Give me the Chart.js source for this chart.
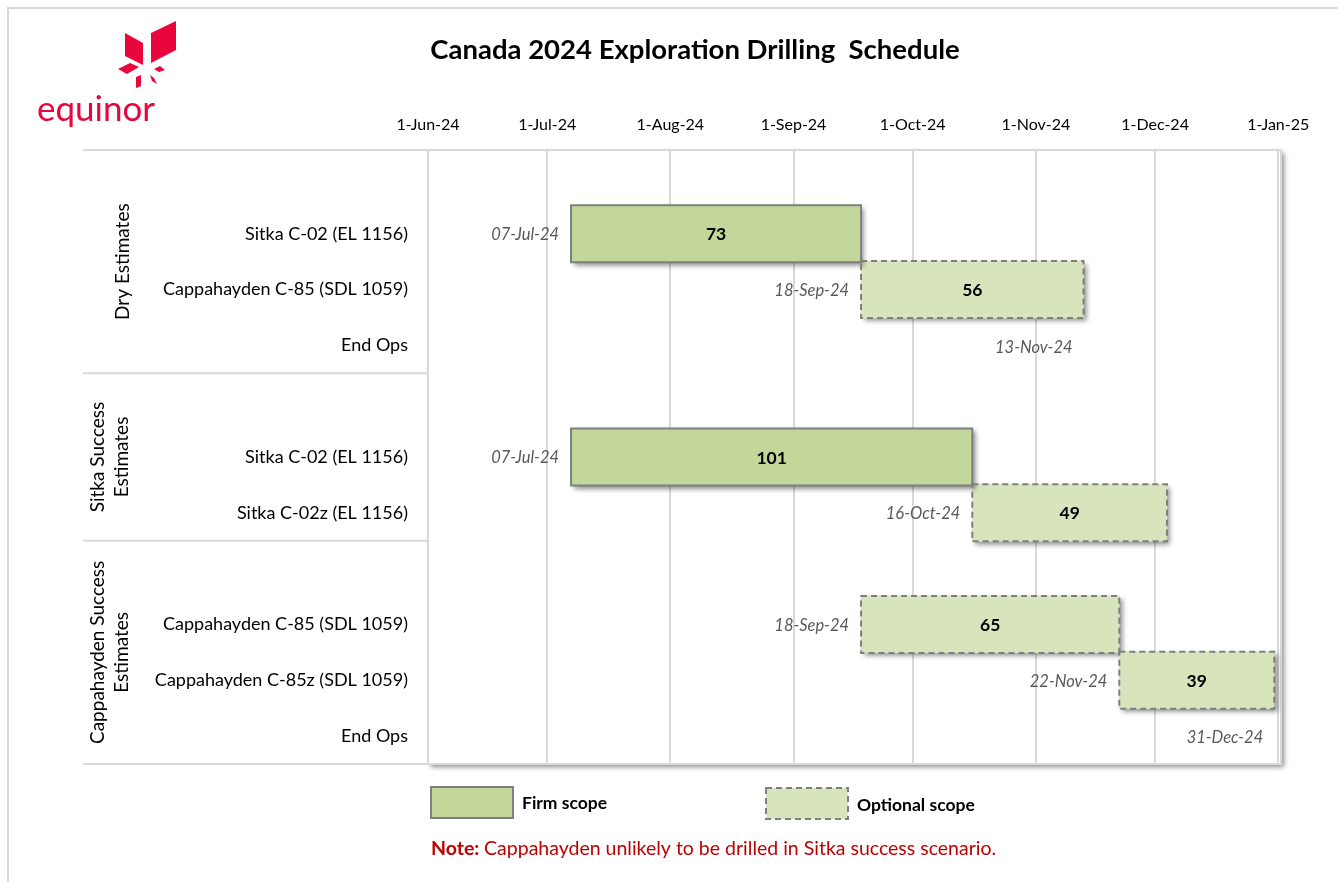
<!DOCTYPE html>
<html>
<head>
<meta charset="utf-8">
<script src="https://cdn.jsdelivr.net/npm/chart.js@4"></script>
<style>
  body { margin: 0; background: #fff; }
  canvas { display: block; }
</style>
</head>
<body>
<canvas id="chart" width="1338" height="882"></canvas>
<script>
'use strict';

// rows of the schedule, top to bottom
const rowLabels = ['', 'Sitka C-02 (EL 1156)', 'Cappahayden C-85 (SDL 1059)', 'End Ops',
  '', 'Sitka C-02 (EL 1156)', 'Sitka C-02z (EL 1156)',
  '', 'Cappahayden C-85 (SDL 1059)', 'Cappahayden C-85z (SDL 1059)', 'End Ops'];
const groupNames = [['Dry Estimates'], ['Sitka Success', 'Estimates'], ['Cappahayden Success', 'Estimates']];
const groupRows = [4, 3, 4];

// firm scope bars (start date + duration in days)
const firmStart = [null, '2024-07-07', null, null, null, '2024-07-07', null, null, null, null, null];
const firmDays = [null, 73, null, null, null, 101, null, null, null, null, null];
// optional scope bars
const optStart = [null, null, '2024-09-18', null, null, null, '2024-10-16', null, '2024-09-18', '2024-11-22', null];
const optDays = [null, null, 56, null, null, null, 49, null, 65, 39, null];
// end of operations milestones
const endOps = [null, null, null, '2024-11-13', null, null, null, null, null, null, '2024-12-31'];

const axisStart = '2024-06-01';
const tickDates = ['2024-06-01', '2024-07-01', '2024-08-01', '2024-09-01', '2024-10-01', '2024-11-01', '2024-12-01', '2025-01-01'];
const tickLabels = ['1-Jun-24', '1-Jul-24', '1-Aug-24', '1-Sep-24', '1-Oct-24', '1-Nov-24', '1-Dec-24', '1-Jan-25'];

const MON = ['Jan', 'Feb', 'Mar', 'Apr', 'May', 'Jun', 'Jul', 'Aug', 'Sep', 'Oct', 'Nov', 'Dec'];
const FONT = 'Lato, "Noto Sans", sans-serif';
const RED = '#e8063c';

function dayOf(iso) {
  return (Date.parse(iso + 'T00:00:00Z') - Date.parse(axisStart + 'T00:00:00Z')) / 86400000;
}
function fmt(iso) {
  let d = new Date(iso + 'T00:00:00Z');
  return String(d.getUTCDate()).padStart(2, '0') + '-' + MON[d.getUTCMonth()] + '-' + String(d.getUTCFullYear()).slice(2);
}

const tickDays = tickDates.map(dayOf);
const firmBars = firmStart.map((s, i) => s ? [dayOf(s), dayOf(s) + firmDays[i]] : null);
const optBars = optStart.map((s, i) => s ? [dayOf(s), dayOf(s) + optDays[i]] : null);

function drawLogo(ctx) {
  ctx.save();
  ctx.fillStyle = RED;
  const shapes = [
    [[125, 33], [143, 43], [143, 65], [125, 56]],
    [[151, 33], [176, 21], [176, 50], [151, 63]],
    [[118, 69], [130, 63], [139, 67], [127, 74]],
    [[154, 69], [160, 66], [165, 70], [159, 72]],
    [[136, 77], [141, 75], [141, 86], [136, 88]],
    [[150, 75], [154, 78], [157, 84], [152, 81]]
  ];
  shapes.forEach(p => {
    ctx.beginPath();
    ctx.moveTo(p[0][0], p[0][1]);
    for (let i = 1; i < p.length; i++) ctx.lineTo(p[i][0], p[i][1]);
    ctx.closePath();
    ctx.fill();
  });
  ctx.font = '35px ' + FONT;
  ctx.textBaseline = 'alphabetic';
  ctx.fillText('equinor', 37, 121);
  ctx.restore();
}

const frame = {
  id: 'frame',
  beforeDraw(chart) {
    const ctx = chart.ctx;
    const a = chart.chartArea;
    const y = chart.scales.y;
    ctx.save();
    ctx.fillStyle = '#fff';
    ctx.fillRect(0, 0, chart.width, chart.height);
    // outer frame
    ctx.strokeStyle = '#d9d9d9';
    ctx.lineWidth = 2;
    ctx.beginPath();
    ctx.moveTo(8, chart.height);
    ctx.lineTo(8, 8);
    ctx.lineTo(chart.width, 8);
    ctx.stroke();

    drawLogo(ctx);

    ctx.fillStyle = '#000';
    ctx.font = 'bold 27.5px ' + FONT;
    ctx.textAlign = 'center';
    ctx.textBaseline = 'middle';
    ctx.fillText('Canada 2024 Exploration Drilling  Schedule', 695, 50);

    // plot area with shadow
    ctx.save();
    ctx.shadowColor = 'rgba(0,0,0,0.45)';
    ctx.shadowBlur = 5;
    ctx.shadowOffsetX = 3;
    ctx.shadowOffsetY = 3;
    ctx.fillStyle = '#fff';
    ctx.fillRect(a.left, a.top, a.right - a.left, a.bottom - a.top);
    ctx.restore();

    // group separators and group names
    const rowH = (a.bottom - a.top) / rowLabels.length;
    let idx = 0;
    ctx.strokeStyle = '#d9d9d9';
    ctx.lineWidth = 2;
    const lineY = [a.top];
    groupRows.forEach(n => { idx += n; lineY.push(y.getPixelForValue(idx - 1) + rowH / 2); });
    lineY.forEach(ly => {
      ctx.beginPath();
      ctx.moveTo(83, ly);
      ctx.lineTo(a.left, ly);
      ctx.stroke();
    });
    ctx.fillStyle = '#000';
    ctx.font = '19px ' + FONT;
    groupNames.forEach((lines, g) => {
      const cy = (lineY[g] + lineY[g + 1]) / 2;
      ctx.save();
      ctx.translate(lines.length === 1 ? 123 : 110, cy);
      ctx.rotate(-Math.PI / 2);
      ctx.textAlign = 'center';
      ctx.textBaseline = 'middle';
      lines.forEach((t, k) => ctx.fillText(t, 0, (k - (lines.length - 1) / 2) * 24));
      ctx.restore();
    });
    ctx.restore();
  },
  beforeDatasetsDraw(chart) {
    const ctx = chart.ctx;
    const a = chart.chartArea;
    ctx.save();
    ctx.strokeStyle = '#d9d9d9';
    ctx.lineWidth = 2;
    ctx.strokeRect(a.left, a.top, a.right - a.left, a.bottom - a.top);
    ctx.restore();
    ctx.save();
    ctx.shadowColor = 'rgba(0,0,0,0.45)';
    ctx.shadowBlur = 5;
    ctx.shadowOffsetX = 3;
    ctx.shadowOffsetY = 3;
  },
  afterDatasetsDraw(chart) {
    const ctx = chart.ctx;
    ctx.restore();
    ctx.save();
    ctx.strokeStyle = '#7f7f7f';
    ctx.lineWidth = 2;
    const days = [firmDays, optDays];
    const starts = [firmStart, optStart];
    chart.data.datasets.forEach((ds, di) => {
      chart.getDatasetMeta(di).data.forEach((el, i) => {
        if (!ds.data[i]) return;
        const p = el.getProps(['x', 'y', 'base', 'height'], true);
        const l = Math.min(p.x, p.base), r = Math.max(p.x, p.base);
        ctx.setLineDash(di === 0 ? [] : [6, 4]);
        ctx.strokeRect(l, p.y - p.height / 2, r - l, p.height);
        ctx.setLineDash([]);
        ctx.fillStyle = '#000';
        ctx.font = 'bold 17.5px ' + FONT;
        ctx.textAlign = 'center';
        ctx.textBaseline = 'middle';
        ctx.fillText(String(days[di][i]), (l + r) / 2, p.y + 1);
        ctx.fillStyle = '#595959';
        ctx.font = 'italic 16.5px ' + FONT;
        ctx.textAlign = 'right';
        ctx.fillText(fmt(starts[di][i]), l - 12, p.y + 1);
      });
    });
    const xs = chart.scales.x, ys = chart.scales.y;
    endOps.forEach((d, i) => {
      if (!d) return;
      ctx.fillStyle = '#595959';
      ctx.font = 'italic 16.5px ' + FONT;
      ctx.textAlign = 'right';
      ctx.textBaseline = 'middle';
      ctx.fillText(fmt(d), xs.getPixelForValue(dayOf(d)) - 11, ys.getPixelForValue(i) + 2);
    });
    ctx.restore();
  },
  afterDraw(chart) {
    const ctx = chart.ctx;
    ctx.save();
    ctx.lineWidth = 2;
    ctx.strokeStyle = '#7f7f7f';
    ctx.fillStyle = '#c4d79b';
    ctx.fillRect(431, 787, 82, 31);
    ctx.strokeRect(431, 787, 82, 31);
    ctx.fillStyle = '#d8e4bc';
    ctx.fillRect(766, 788, 82, 31);
    ctx.setLineDash([6, 4]);
    ctx.strokeRect(766, 788, 82, 31);
    ctx.setLineDash([]);
    ctx.fillStyle = '#000';
    ctx.font = 'bold 17.5px ' + FONT;
    ctx.textBaseline = 'middle';
    ctx.textAlign = 'left';
    ctx.fillText(chart.data.datasets[0].label, 522, 803);
    ctx.fillText(chart.data.datasets[1].label, 857, 805);

    ctx.fillStyle = '#c00000';
    ctx.font = 'bold 19.5px ' + FONT;
    ctx.fillText('Note:', 431, 849);
    const w = ctx.measureText('Note: ').width;
    ctx.font = '19.5px ' + FONT;
    ctx.fillText('Cappahayden unlikely to be drilled in Sitka success scenario.', 431 + w, 849);
    ctx.restore();
  }
};

new Chart(document.getElementById('chart'), {
  type: 'bar',
  data: {
    labels: rowLabels,
    datasets: [
      { label: 'Firm scope', data: firmBars, backgroundColor: '#c4d79b', borderWidth: 0, barThickness: 57 },
      { label: 'Optional scope', data: optBars, backgroundColor: '#d8e4bc', borderWidth: 0, barThickness: 57 }
    ]
  },
  options: {
    indexAxis: 'y',
    responsive: false,
    animation: false,
    grouped: false,
    layout: { padding: { top: 0, left: 0, right: 57, bottom: 118 } },
    scales: {
      x: {
        type: 'linear',
        position: 'top',
        min: 0,
        max: 214.7,
        afterBuildTicks: s => { s.ticks = tickDays.map(v => ({ value: v })); },
        afterFit: s => { s.height = 150; },
        ticks: {
          callback: v => tickLabels[tickDays.indexOf(v)],
          color: '#000',
          font: { family: FONT, size: 16 },
          padding: 16,
          maxRotation: 0
        },
        grid: { color: '#d9d9d9', lineWidth: 2, drawTicks: false },
        border: { display: false }
      },
      y: {
        afterFit: s => { s.width = 428; },
        ticks: {
          color: '#000',
          font: { family: FONT, size: 18 },
          padding: 12,
          autoSkip: false
        },
        grid: { display: false },
        border: { display: false }
      }
    },
    plugins: { legend: { display: false }, tooltip: { enabled: false }, title: { display: false } }
  },
  plugins: [frame]
});
</script>
</body>
</html>
